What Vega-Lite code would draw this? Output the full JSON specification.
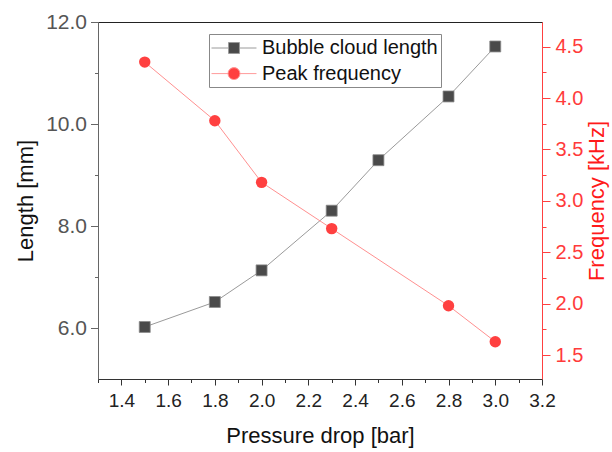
{
  "$schema": "https://vega.github.io/schema/vega-lite/v6.json",
  "width": 444,
  "height": 357,
  "autosize": "none",
  "padding": {"left": 98, "top": 22, "right": 70, "bottom": 73},
  "config": {
    "font": "Liberation Sans",
    "view": {"stroke": "#222", "strokeWidth": 1},
    "axis": {"grid": false, "labelFont": "Liberation Sans", "titleFont": "Liberation Sans", "titleFontWeight": "normal", "labelOverlap": false, "labelFlush": false, "labelBound": false}
  },
  "data": {
    "values": [
      {"p": 1.5, "v": 6.02, "s": "Bubble cloud length"},
      {"p": 1.8, "v": 6.51, "s": "Bubble cloud length"},
      {"p": 2.0, "v": 7.13, "s": "Bubble cloud length"},
      {"p": 2.3, "v": 8.30, "s": "Bubble cloud length"},
      {"p": 2.5, "v": 9.29, "s": "Bubble cloud length"},
      {"p": 2.8, "v": 10.54, "s": "Bubble cloud length"},
      {"p": 3.0, "v": 11.52, "s": "Bubble cloud length"},
      {"p": 1.5, "v": 4.35, "s": "Peak frequency"},
      {"p": 1.8, "v": 3.78, "s": "Peak frequency"},
      {"p": 2.0, "v": 3.18, "s": "Peak frequency"},
      {"p": 2.3, "v": 2.73, "s": "Peak frequency"},
      {"p": 2.8, "v": 1.98, "s": "Peak frequency"},
      {"p": 3.0, "v": 1.63, "s": "Peak frequency"}
    ]
  },
  "encoding": {
    "x": {
      "field": "p", "type": "quantitative",
      "scale": {"domain": [1.3, 3.2], "nice": false, "zero": false},
      "axis": {
        "title": "Pressure drop [bar]",
        "values": [1.3, 1.4, 1.5, 1.6, 1.7, 1.8, 1.9, 2.0, 2.1, 2.2, 2.3, 2.4, 2.5, 2.6, 2.7, 2.8, 2.9, 3.0, 3.1, 3.2],
        "labelExpr": "round(datum.value*10)%2==0 ? format(datum.value, '.1f') : ''",
        "tickSize": {"condition": {"test": "round(datum.value*10)%2==0", "value": 6}, "value": 3.5},
        "domainColor": "#333", "tickColor": "#333", "labelColor": "#222",
        "labelFontSize": 19, "labelPadding": 6,
        "titleFontSize": 22, "titleColor": "#111", "titlePadding": 15
      }
    }
  },
  "layer": [
    {
      "transform": [{"filter": "datum.s == 'Bubble cloud length'"}],
      "encoding": {
        "y": {
          "field": "v", "type": "quantitative",
          "scale": {"domain": [5, 12], "nice": false, "zero": false},
          "axis": {
            "orient": "left",
            "title": "Length [mm]",
            "values": [6, 7, 8, 9, 10, 11, 12],
            "labelExpr": "round(datum.value)%2==0 ? format(datum.value, '.1f') : ''",
            "tickSize": {"condition": {"test": "round(datum.value)%2==0", "value": 7.5}, "value": 3.5},
            "domainColor": "#666", "tickColor": "#666", "labelColor": "#555",
            "labelFontSize": 21, "labelPadding": 4,
            "titleFontSize": 22, "titleColor": "#111", "titlePadding": 8
          }
        }
      },
      "layer": [
        {"mark": {"type": "line", "color": "#9a9a9a", "strokeWidth": 1}},
        {"mark": {"type": "point", "shape": "square", "filled": true, "opacity": 1, "size": 120, "fill": "#4a4a4a", "stroke": "#8a8a8a", "strokeWidth": 0.8}}
      ]
    },
    {
      "transform": [{"filter": "datum.s == 'Peak frequency'"}],
      "encoding": {
        "y": {
          "field": "v", "type": "quantitative",
          "scale": {"domain": [1.267, 4.74], "nice": false, "zero": false},
          "axis": {
            "orient": "right",
            "title": "Frequency [kHz]",
            "values": [1.5, 1.75, 2.0, 2.25, 2.5, 2.75, 3.0, 3.25, 3.5, 3.75, 4.0, 4.25, 4.5],
            "labelExpr": "round(datum.value*4)%2==0 ? format(datum.value, '.1f') : ''",
            "tickSize": {"condition": {"test": "round(datum.value*4)%2==0", "value": 8}, "value": 4},
            "domainColor": "#ff4040", "tickColor": "#ff4040", "labelColor": "#ff3b3b",
            "labelFontSize": 20, "labelPadding": 5,
            "titleFontSize": 22, "titleColor": "#ff1a1a", "titlePadding": 4,
            "titleAngle": 270, "titleBaseline": "top"
          }
        }
      },
      "layer": [
        {"mark": {"type": "line", "color": "#ff9090", "strokeWidth": 1}},
        {"mark": {"type": "point", "shape": "circle", "filled": true, "opacity": 1, "size": 130, "fill": "#ff4040", "strokeWidth": 0}}
      ]
    },
    {
      "transform": [{"filter": "false"}],
      "mark": {"type": "point", "filled": true, "opacity": 1, "size": 441, "strokeWidth": 1},
      "encoding": {
        "color": {"field": "s", "type": "nominal", "scale": {"domain": ["Bubble cloud length", "Peak frequency"], "range": ["#4a4a4a", "#ff4040"]}, "legend": {
          "orient": "none", "legendX": 111, "legendY": 12, "title": null,
          "strokeColor": "#888", "fillColor": "white", "padding": 3,
          "labelFontSize": 20, "labelFont": "Liberation Sans", "labelColor": "#111", "labelLimit": 400,
          "symbolSize": 441, "symbolOffset": 11, "labelOffset": 17, "rowPadding": 4.6,
          "symbolOpacity": 1, "symbolStrokeWidth": 1
        }},
        "shape": {"field": "s", "type": "nominal", "scale": {"domain": ["Bubble cloud length", "Peak frequency"], "range": ["M-2.14,0H-0.52M0.52,0H2.14M-0.52,-0.52H0.52V0.52H-0.52Z", "M-2.14,0H-0.57M0.57,0H2.14M0.57,0A0.57,0.57,0,1,1,-0.57,0A0.57,0.57,0,1,1,0.57,0Z"]}, "legend": null},
        "stroke": {"field": "s", "type": "nominal", "scale": {"domain": ["Bubble cloud length", "Peak frequency"], "range": ["#9a9a9a", "#ff9a9a"]}, "legend": null}
      }
    }
  ],
  "resolve": {"scale": {"y": "independent"}, "axis": {"y": "independent"}}
}
